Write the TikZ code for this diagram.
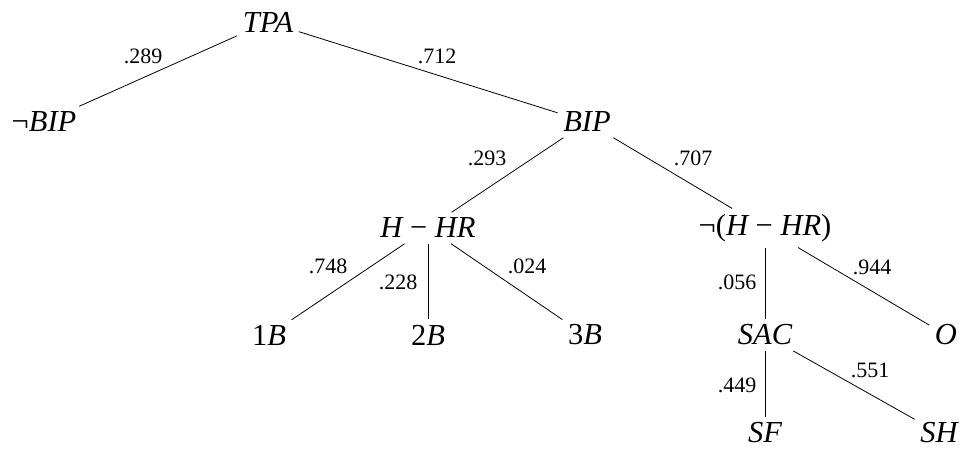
\documentclass[tikz,border=0pt]{standalone}
\usepackage{fontspec}
\setmainfont{Liberation Serif}
\begin{document}
\begin{tikzpicture}[x=1pt,y=-1pt,
  tnode/.style={inner sep=5.5pt, font=\fontsize{30.5}{36}\selectfont\itshape},
  plabel/.style={inner sep=0pt, font=\fontsize{22}{26}\selectfont},
  branch/.style={draw=black, line width=0.8pt}]
\useasboundingbox (0,0) rectangle (964,450);
\newcommand{\mminus}{\hspace{0.25em}{\upshape −}\hspace{0.25em}}
\node[tnode] (tpa) at (268,22) {TPA};
\node[tnode] (nbip) at (44,122) {{\upshape ¬}BIP};
\node[tnode] (bip) at (587,122) {BIP};
\node[tnode] (hhr) at (428,228) {H\mminus HR};
\node[tnode] (nhhr) at (765,228) {{\upshape ¬(}H\mminus HR{\upshape )}};
\node[tnode] (b1) at (269,335) {{\upshape 1}B};
\node[tnode] (b2) at (428,335) {{\upshape 2}B};
\node[tnode] (b3) at (585,335) {{\upshape 3}B};
\node[tnode] (sac) at (765,335) {SAC};
\node[tnode] (o) at (946,335) {O};
\node[tnode] (sf) at (765,433) {SF};
\node[tnode] (sh) at (939,433) {SH};
\draw[branch] (tpa) -- (nbip);
\draw[branch] (tpa) -- (bip);
\draw[branch] (bip) -- (hhr);
\draw[branch] (bip) -- (nhhr);
\draw[branch] (hhr) -- (b1);
\draw[branch] (hhr) -- (b2);
\draw[branch] (hhr) -- (b3);
\draw[branch] (nhhr) -- (sac);
\draw[branch] (nhhr) -- (o);
\draw[branch] (sac) -- (sf);
\draw[branch] (sac) -- (sh);
\node[plabel] (l1) at (143,56) {.289};
\node[plabel] (l2) at (437,56) {.712};
\node[plabel] (l3) at (487,158) {.293};
\node[plabel] (l4) at (693,158) {.707};
\node[plabel] (l5) at (328,266) {.748};
\node[plabel] (l6) at (398,282) {.228};
\node[plabel] (l7) at (527,266) {.024};
\node[plabel] (l8) at (737,282) {.056};
\node[plabel] (l9) at (872,267) {.944};
\node[plabel] (l10) at (737,385) {.449};
\node[plabel] (l11) at (870,370) {.551};
\end{tikzpicture}
\end{document}
